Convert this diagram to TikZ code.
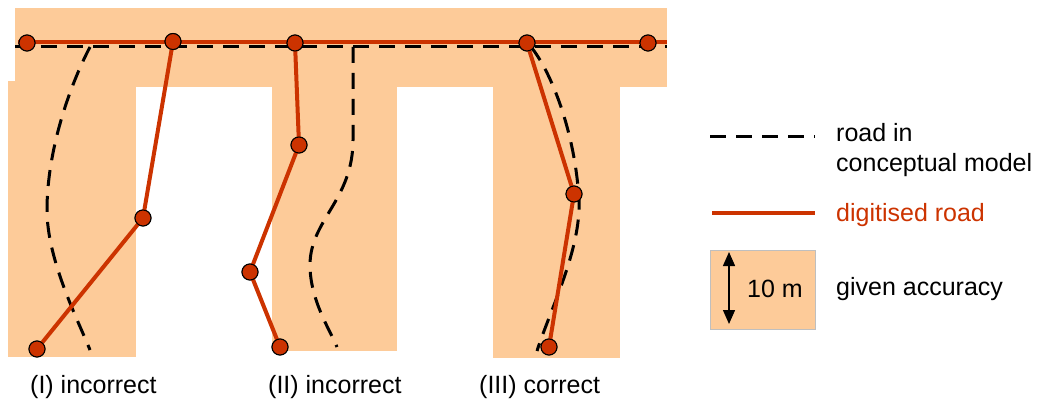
\documentclass[tikz,border=0pt]{standalone}
\usepackage{fontspec}
\setmainfont{Liberation Sans}
\usetikzlibrary{arrows.meta}
\definecolor{acc}{HTML}{FDCB99}
\definecolor{road}{HTML}{CC3300}
\begin{document}
\begin{tikzpicture}[x=1pt,y=-1pt,
  dot/.style={circle,fill=road,draw=black,line width=1pt,minimum size=16pt,inner sep=0pt},
  digi/.style={road,line width=4pt},
  concept/.style={black,line width=3pt,dash pattern=on 16pt off 10pt},
  lbl/.style={font=\fontsize{25}{30}\selectfont,inner sep=0pt,align=left}]
\useasboundingbox (0,0) rectangle (1040,403);
% accuracy zones
\fill[acc] (15,8) rectangle (667,87);
\fill[acc] (8,81) rectangle (136,357);
\fill[acc] (272,87) rectangle (397,351);
\fill[acc] (493,87) rectangle (620,358);
% coordinates
\coordinate (dl) at (15,47);
\coordinate (dr) at (667,47);
\coordinate (rl) at (18,42.5);
\coordinate (rr) at (667,42.5);
% conceptual model roads
\draw[concept] (dl) -- (dr);
\draw[concept] (90,47) .. controls (70,85) and (47,150) .. (47,210)
  .. controls (47,260) and (78,320) .. (90,350);
\draw[concept] (353,47) -- (353,140) .. controls (353,200) and (310,220) .. (310,265)
  .. controls (310,300) and (330,330) .. (337,347);
\draw[concept] (531,47) .. controls (550,70) and (575,130) .. (579,200)
  .. controls (581,250) and (550,310) .. (537,351);
% digitised roads
\draw[digi] (rl) -- (rr);
\node[dot] (p1) at (27,43) {};
\node[dot] (p2) at (173,41.5) {};
\node[dot] (p3) at (295,43) {};
\node[dot] (p4) at (527,43) {};
\node[dot] (p5) at (648,43) {};
\node[dot] (a1) at (143,218) {};
\node[dot] (a2) at (37,349) {};
\node[dot] (b1) at (299,145) {};
\node[dot] (b2) at (250,272) {};
\node[dot] (b3) at (280,347) {};
\node[dot] (c1) at (574,194) {};
\node[dot] (c2) at (549,347) {};
\draw[digi] (p2.center) -- (a1.center) -- (a2.center);
\draw[digi] (p3.center) -- (b1.center) -- (b2.center) -- (b3.center);
\draw[digi] (p4.center) -- (c1.center) -- (c2.center);
% redraw dots on top of the connectors
\foreach \n in {p1,p2,p3,p4,p5,a1,a2,b1,b2,b3,c1,c2}
  \fill[road,draw=black,line width=1pt] (\n.center) circle (8pt);
% labels
\node[lbl,anchor=base west] (l1) at (30,393) {(I) incorrect};
\node[lbl,anchor=base west] (l2) at (268,393) {(II) incorrect};
\node[lbl,anchor=base west] (l3) at (479,393) {(III) correct};
% legend
\coordinate (lg1a) at (710,137);
\coordinate (lg1b) at (815,137);
\draw[concept] (lg1a) -- (lg1b);
\node[lbl,anchor=west] (t1) at (836,150) {road in\\conceptual model};
\coordinate (lg2a) at (712,213);
\coordinate (lg2b) at (815,213);
\draw[digi] (lg2a) -- (lg2b);
\node[lbl,anchor=base west,text=road] (t2) at (836,222) {digitised road};
\fill[acc,draw=gray!50,line width=0.8pt] (710,250) rectangle (815,329);
\coordinate (ar1) at (729,252);
\coordinate (ar2) at (729,324);
\draw[{Triangle[length=14pt,width=12pt]}-{Triangle[length=14pt,width=12pt]},line width=1.5pt] (ar1) -- (ar2);
\node[lbl,anchor=base west] (t3) at (747,297) {10 m};
\node[lbl,anchor=base west] (t4) at (836,295) {given accuracy};
\end{tikzpicture}
\end{document}
